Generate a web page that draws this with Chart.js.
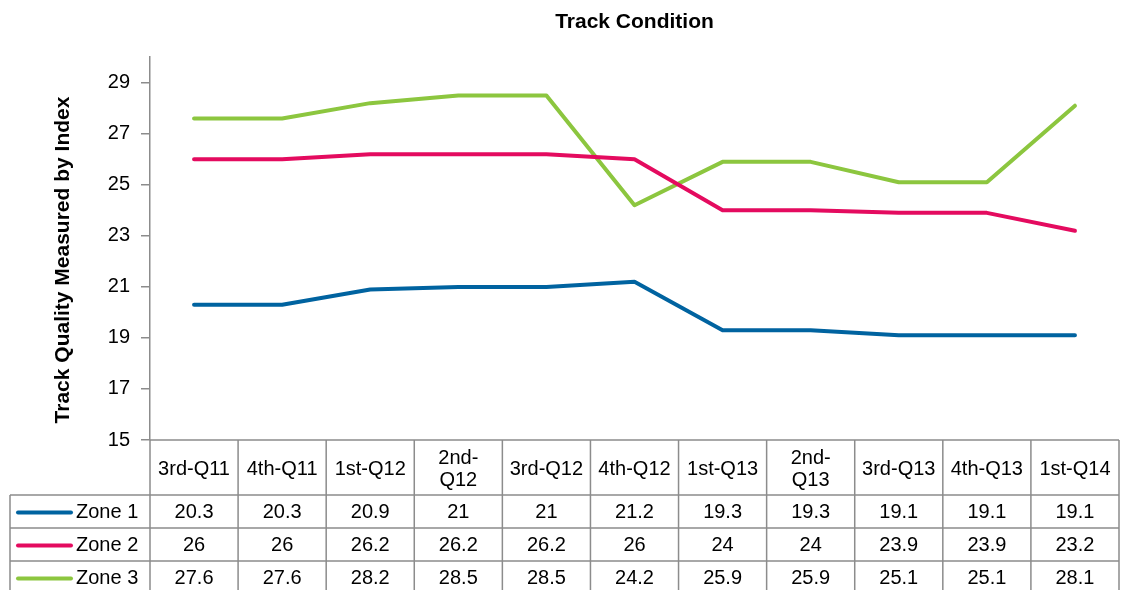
<!DOCTYPE html>
<html>
<head>
<meta charset="utf-8">
<script src="https://cdn.jsdelivr.net/npm/chart.js@4"></script>
<style>
  body { margin: 0; background: #fff; }
  #wrap { width: 1126px; height: 590px; }
</style>
</head>
<body>
<div id="wrap"><canvas id="trackChart" width="1126" height="590"></canvas></div>
<script>
// chart data
const categories = ["3rd-Q11", "4th-Q11", "1st-Q12", ["2nd-", "Q12"], "3rd-Q12", "4th-Q12",
  "1st-Q13", ["2nd-", "Q13"], "3rd-Q13", "4th-Q13", "1st-Q14"];
const seriesNames = ["Zone 1", "Zone 2", "Zone 3"];
const zone1 = [20.3, 20.3, 20.9, 21, 21, 21.2, 19.3, 19.3, 19.1, 19.1, 19.1];
const zone2 = [26, 26, 26.2, 26.2, 26.2, 26, 24, 24, 23.9, 23.9, 23.2];
const zone3 = [27.6, 27.6, 28.2, 28.5, 28.5, 24.2, 25.9, 25.9, 25.1, 25.1, 28.1];
const yTicks = [15, 17, 19, 21, 23, 25, 27, 29];
const colors = ["#0063a0", "#e40b5f", "#8cc63f"];

const FONT = "'Liberation Sans', Arial, sans-serif";
const gridColor = "#8c8c8c";

// data table drawn under the plot, using the x scale for column positions
const tablePlugin = {
  id: "dataTable",
  afterDraw(chart) {
    const ctx = chart.ctx;
    const xs = chart.scales.x;
    const area = chart.chartArea;
    const colW = xs.getPixelForValue(1) - xs.getPixelForValue(0);
    const left = area.left, right = area.right;
    const headTop = area.bottom, headBot = headTop + 55;
    const rowH = 33;
    const tableLeft = 10, bottom = chart.height;
    const rows = [zone1, zone2, zone3];

    ctx.save();
    ctx.strokeStyle = gridColor;
    ctx.lineWidth = 1.5;
    ctx.beginPath();
    // top of header (x axis)
    ctx.moveTo(left, headTop); ctx.lineTo(right, headTop);
    // row separators
    for (let r = 0; r <= 2; r++) {
      const y = headBot + r * rowH;
      ctx.moveTo(tableLeft, y); ctx.lineTo(right, y);
    }
    // vertical lines
    ctx.moveTo(tableLeft, headBot); ctx.lineTo(tableLeft, bottom);
    for (let i = 0; i <= categories.length; i++) {
      const x = xs.getPixelForValue(0) - colW / 2 + i * colW;
      ctx.moveTo(x, headTop); ctx.lineTo(x, bottom);
    }
    ctx.stroke();

    ctx.fillStyle = "#000";
    ctx.font = "20px " + FONT;
    ctx.textAlign = "center";
    ctx.textBaseline = "middle";
    // header labels
    categories.forEach((c, i) => {
      const x = xs.getPixelForValue(i);
      if (Array.isArray(c)) {
        ctx.fillText(c[0], x, headTop + 18);
        ctx.fillText(c[1], x, headTop + 40);
      } else {
        ctx.fillText(c, x, headTop + 29);
      }
    });
    // rows
    rows.forEach((vals, r) => {
      const cy = headBot + r * rowH + rowH / 2 + 1;
      vals.forEach((v, i) => {
        ctx.fillText(String(v), xs.getPixelForValue(i), cy);
      });
      // legend key
      ctx.save();
      ctx.strokeStyle = colors[r];
      ctx.lineWidth = 4;
      ctx.lineCap = "round";
      ctx.beginPath();
      ctx.moveTo(18, cy); ctx.lineTo(71, cy);
      ctx.stroke();
      ctx.restore();
      ctx.textAlign = "left";
      ctx.fillText(seriesNames[r], 76, cy);
      ctx.textAlign = "center";
    });

    // y axis title
    ctx.save();
    ctx.translate(63, 260);
    ctx.rotate(-Math.PI / 2);
    ctx.font = "bold 21px " + FONT;
    ctx.fillText("Track Quality Measured by Index", 0, 0);
    ctx.restore();
    ctx.restore();
  }
};

new Chart(document.getElementById("trackChart").getContext("2d"), {
  type: "line",
  data: {
    labels: categories,
    datasets: [zone1, zone2, zone3].map((d, i) => ({
      label: seriesNames[i],
      data: d,
      borderColor: colors[i],
      backgroundColor: colors[i],
      borderWidth: 4,
      pointRadius: 0,
      tension: 0,
      borderCapStyle: "round",
      borderJoinStyle: "round"
    }))
  },
  options: {
    responsive: false,
    animation: false,
    devicePixelRatio: 1,
    layout: { padding: { left: 0, right: 7, top: 0, bottom: 150 } },
    scales: {
      x: { display: false, offset: true },
      y: {
        min: 15,
        max: 30,
        afterBuildTicks: s => { s.ticks = yTicks.map(v => ({ value: v })); },
        afterFit: s => { s.width = 150; },
        border: { color: gridColor, width: 1.5 },
        grid: { drawOnChartArea: false, drawTicks: true, tickLength: 9, color: gridColor, lineWidth: 1.5 },
        ticks: { color: "#000", padding: 11, font: { size: 20, family: FONT } }
      }
    },
    plugins: {
      legend: { display: false },
      tooltip: { enabled: false },
      title: {
        display: true,
        text: "Track Condition",
        fullSize: false,
        color: "#000",
        font: { size: 21, weight: "bold", family: FONT },
        padding: { top: 10, bottom: 22 }
      }
    }
  },
  plugins: [tablePlugin]
});
</script>
</body>
</html>
